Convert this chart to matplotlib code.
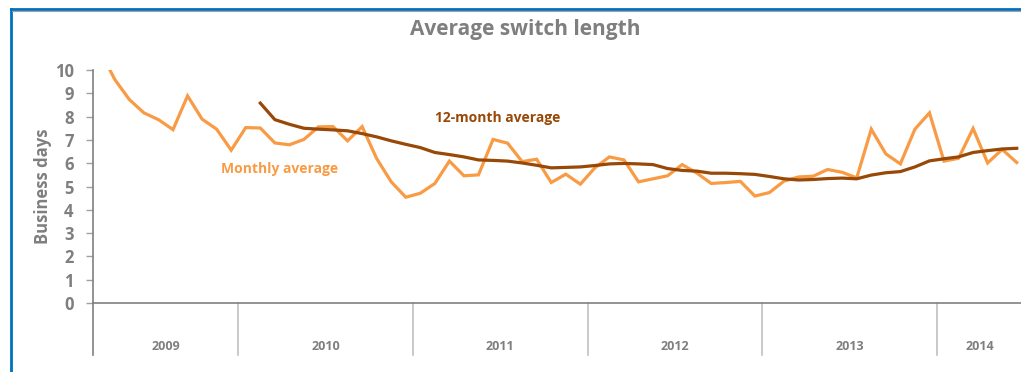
import numpy as np
import matplotlib.pyplot as plt
from matplotlib.lines import Line2D
import matplotlib.transforms as mtransforms

plt.rcParams['font.family'] = ['Open Sans', 'DejaVu Sans']

# monthly data, Mar 2009 - Jun 2014 (business days)
monthly = [10.8, 9.59, 8.73, 8.16, 7.87, 7.44, 8.89, 7.89, 7.46, 6.56,
           7.53, 7.51, 6.87, 6.79, 7.02, 7.56, 7.57, 6.96, 7.57, 6.20, 5.20, 4.54,
           4.71, 5.13, 6.09, 5.46, 5.50, 7.02, 6.86, 6.07, 6.17, 5.17, 5.53, 5.10,
           5.80, 6.27, 6.14, 5.20, 5.33, 5.46, 5.94, 5.58, 5.13, 5.17, 5.22, 4.59,
           4.74, 5.23, 5.41, 5.44, 5.73, 5.61, 5.37, 7.46, 6.40, 5.97, 7.46, 8.16,
           6.09, 6.21, 7.49, 6.01, 6.59, 6.03]
# rolling 12-month average, starts Feb 2010
rolling = [8.58, 7.87, 7.67, 7.50, 7.46, 7.43, 7.39, 7.27, 7.13, 6.96, 6.81,
           6.67, 6.46, 6.37, 6.27, 6.14, 6.12, 6.09, 6.01, 5.91, 5.80, 5.82, 5.84,
           5.90, 5.97, 5.99, 5.97, 5.94, 5.77, 5.69, 5.66, 5.57, 5.57, 5.55, 5.52,
           5.43, 5.33, 5.28, 5.30, 5.34, 5.36, 5.33, 5.49, 5.59, 5.64, 5.84, 6.10,
           6.19, 6.27, 6.46, 6.54, 6.61, 6.64]
years = ['2009', '2010', '2011', '2012', '2013', '2014']
months_per_year = [10, 12, 12, 12, 12, 6]

grey = '#7f7f7f'
orange = '#f99b45'
brown = '#984807'

fig = plt.figure(figsize=(10.21, 3.72), dpi=100)
ax = fig.add_axes([93 / 1021, 1 - 303 / 372, 931 / 1021, 233 / 372])

x = np.arange(len(monthly))
x_roll = x[len(monthly) - len(rolling):]
ax.plot(x, monthly, color=orange, lw=2.3, solid_joinstyle='miter', zorder=3)
ax.plot(x_roll, rolling, color=brown, lw=2.3, zorder=4)

ax.set_xlim(-0.5, len(monthly) - 0.5)
ax.set_ylim(0, 10)
ax.set_yticks(range(0, 11))
ax.tick_params(axis='y', length=5, width=1, color='#a0a0a0', labelsize=12,
               labelcolor=grey, pad=9)
for lab in ax.get_yticklabels():
    lab.set_fontweight('bold')
ax.set_xticks([])
for side in ['top', 'right']:
    ax.spines[side].set_visible(False)
ax.spines['bottom'].set_color('#808080')
ax.spines['left'].set_color('#808080')
ax.spines['bottom'].set_linewidth(1.2)
ax.spines['left'].set_linewidth(1.2)

ax.set_ylabel('Business days', fontsize=12, color=grey, fontweight='bold')
ax.yaxis.set_label_coords(-50 / 931, 0.5)
ax.yaxis.label.set_va('center')

# year separators and labels below the axis
trans = mtransforms.blended_transform_factory(ax.transData, ax.transAxes)
edges = np.concatenate([[0], np.cumsum(months_per_year)]) - 0.5
ax.add_line(Line2D([edges[0], edges[0]], [0, -52 / 233], transform=trans,
                   color='#808080', lw=1.2, clip_on=False))
for e in edges[1:-1]:
    ax.add_line(Line2D([e, e], [0, -52 / 233], transform=trans,
                       color='#c0c0c0', lw=1.2, clip_on=False))
for i, yr in enumerate(years):
    ax.text((edges[i] + edges[i + 1]) / 2, -43 / 233, yr, transform=trans,
            ha='center', va='center', fontsize=9, color=grey, fontweight='bold')

ax.text(12.3, 5.74, 'Monthly average', color=orange, fontsize=10,
        fontweight='bold', ha='center', va='center')
ax.text(27.3, 7.93, '12-month average', color=brown, fontsize=10,
        fontweight='bold', ha='center', va='center')

fig.text(525 / 1021, 1 - 30 / 372, 'Average switch length', ha='center',
         va='center', fontsize=15, color=grey, fontweight='bold')

# blue frame around the chart
fig.add_artist(Line2D([11 / 1021, 11 / 1021], [0, 1 - 9 / 372],
                      transform=fig.transFigure, color='#0070c0', lw=2))
fig.add_artist(Line2D([11 / 1021, 1], [1 - 9 / 372, 1 - 9 / 372],
                      transform=fig.transFigure, color='#0070c0', lw=2))
fig.add_artist(Line2D([12 / 1021, 1], [1 - 11 / 372, 1 - 11 / 372],
                      transform=fig.transFigure, color='#a0a0a0', lw=0.8))

fig.savefig('out.png', dpi=100)
